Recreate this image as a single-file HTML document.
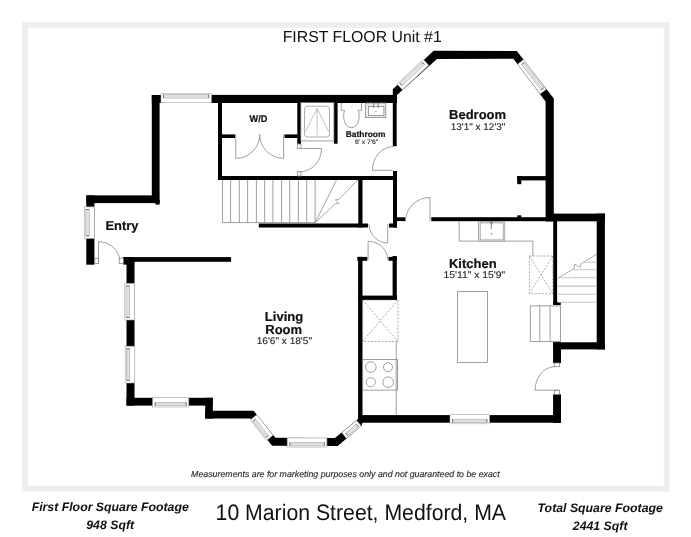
<!DOCTYPE html>
<html><head><meta charset="utf-8">
<style>
html,body{margin:0;padding:0;background:#fff;}
body{width:691px;height:537px;overflow:hidden;position:relative;}
svg{position:absolute;left:0;top:0;}
#wrap{position:absolute;left:0;top:0;width:691px;height:537px;will-change:transform}
</style></head>
<body>
<div id="wrap">
<svg text-rendering="geometricPrecision" width="691" height="537" viewBox="0 0 691 537" font-family="Liberation Sans, sans-serif">
<!-- frame -->
<rect x="24.9" y="24.9" width="641.8" height="463.8" fill="none" stroke="#eceef0" stroke-width="5.8"/>

<text x="362.2" y="41.8" font-size="15.85" text-anchor="middle" fill="#111">FIRST FLOOR Unit #1</text>

<g fill="#000" stroke="none">
  <!-- left hall wall -->
  <rect x="151.8" y="95" width="7.8" height="108"/>
  <rect x="155.4" y="200" width="4.2" height="4.6"/>
  <rect x="151.8" y="95" width="9.4" height="7.9"/>
  <!-- top wall -->
  <rect x="211" y="94.9" width="186" height="8.1"/>
  <!-- W/D left wall -->
  <rect x="218" y="102" width="4" height="78"/>
  <!-- W/D stubs -->
  <rect x="222" y="134.4" width="13.2" height="3.6"/>
  <rect x="284.5" y="134.4" width="13" height="3.6"/>
  <!-- W/D right wall -->
  <rect x="297.3" y="102" width="3.7" height="42"/>
  <!-- W/D bottom wall -->
  <rect x="218" y="176" width="179" height="4"/>
  <!-- shower right wall -->
  <rect x="334" y="102" width="3.6" height="41.7"/>
  <!-- bathroom right wall -->
  <rect x="392.8" y="89.2" width="3.9" height="57"/>
  <!-- hall vertical -->
  <rect x="393" y="171" width="4" height="56.5"/>
  <!-- stair right wall -->
  <rect x="358.3" y="180" width="4.2" height="47.5"/>
  <!-- wall under stairs -->
  <rect x="258.8" y="223.5" width="109.2" height="4"/>
  <rect x="389" y="223.5" width="8" height="4"/>
  <rect x="397" y="217.3" width="8.3" height="3.8"/>

  <!-- bedroom walls -->
  <polygon points="392.8,89.2 433.6,50.8 516.8,51 553.8,98.6 553.8,221.3 545.6,221.3 545.6,101.6 513.4,58.8 437,59 396.7,95.3"/>
  <!-- closet stub -->
  <rect x="517.2" y="176.1" width="28.8" height="4.3"/>
  <rect x="517.2" y="176.1" width="4.1" height="8.1"/>
  <!-- bedroom bottom / kitchen top -->
  <rect x="431.3" y="217.2" width="122" height="4"/>
  <rect x="517.3" y="215.3" width="4" height="2.5"/>

  <!-- stair enclosure -->
  <rect x="546" y="213.6" width="59" height="7.7"/>
  <rect x="596.7" y="213.6" width="8.2" height="135.8"/>
  <rect x="553.2" y="221" width="3.9" height="84"/>
  <rect x="553.2" y="302" width="7.6" height="3"/>
  <rect x="553.2" y="342.3" width="51.7" height="7.1"/>
  <rect x="553.1" y="342.3" width="7.9" height="20.7"/>
  <rect x="553.1" y="394.4" width="7.9" height="28.5"/>

  <!-- kitchen bottom wall -->
  <rect x="358.3" y="415.1" width="202.7" height="7.6"/>
  <!-- kitchen left wall -->
  <rect x="358.1" y="256.9" width="4.4" height="166"/>
  <!-- closet -->
  <rect x="358.1" y="295.6" width="38.9" height="4.4"/>
  <rect x="392.6" y="256" width="4.2" height="44"/>
  <rect x="357.3" y="256.9" width="10" height="3.9"/>
  <rect x="388.5" y="256.9" width="8.3" height="3.9"/>

  <!-- living room top wall -->
  <rect x="123.2" y="257.1" width="107.9" height="4.7"/>
  <rect x="123.2" y="257.1" width="11.1" height="7.5"/>
  <!-- living room left wall -->
  <rect x="126.5" y="257.1" width="8" height="148.5"/>
  <!-- bottom left -->
  <rect x="126.5" y="397.8" width="86.3" height="7.8"/>
  <rect x="205.2" y="397.8" width="7.6" height="20.8"/>
  <!-- bay -->
  <polygon points="205.2,410.7 253.5,410.7 275.4,437.7 334.9,438.1 358.6,418.6 362.4,418.6 362.4,422.7 361.4,426 337.7,446 272.1,445.8 250.2,418.6 205.2,418.6"/>

  <!-- entry -->
  <rect x="86.4" y="195.4" width="72.7" height="7.7"/>
  <rect x="86.3" y="195.4" width="8.1" height="69.3"/>
</g>

<!-- windows -->
<g transform="translate(186.2 98.0) rotate(0)"><rect x="-25.200000000000003" y="-4.599999999999994" width="50.400000000000006" height="9.199999999999989" fill="#fff" stroke="#a8a8a8" stroke-width="0.6"/><rect x="-22.6" y="-3.399999999999994" width="45.2" height="3.4" fill="#eeeeee" stroke="#9a9a9a" stroke-width="0.55"/><path d="M-22.6,-2.266666666666661 H22.6 M-22.6,-1.1333333333333275 H22.6" stroke="#bdbdbd" stroke-width="0.35"/><path d="M-22.6,-3.399999999999994 V5.773159728050814e-15 M22.6,-3.399999999999994 V5.773159728050814e-15" stroke="#555" stroke-width="0.7"/></g>
<g transform="translate(89.44999999999999 222.7) rotate(-90)"><rect x="-15.799999999999997" y="-4.850000000000001" width="31.599999999999994" height="9.700000000000003" fill="#fff" stroke="#a8a8a8" stroke-width="0.6"/><rect x="-13.199999999999998" y="-3.6500000000000012" width="26.399999999999995" height="3.4" fill="#eeeeee" stroke="#9a9a9a" stroke-width="0.55"/><path d="M-13.199999999999998,-2.516666666666668 H13.199999999999998 M-13.199999999999998,-1.3833333333333346 H13.199999999999998" stroke="#bdbdbd" stroke-width="0.35"/><path d="M-13.199999999999998,-3.6500000000000012 V-0.25000000000000133 M13.199999999999998,-3.6500000000000012 V-0.25000000000000133" stroke="#555" stroke-width="0.7"/></g>
<g transform="translate(129.7 301.65) rotate(-90)"><rect x="-18.349999999999994" y="-4.899999999999999" width="36.69999999999999" height="9.799999999999997" fill="#fff" stroke="#a8a8a8" stroke-width="0.6"/><rect x="-15.749999999999995" y="-3.6999999999999984" width="31.49999999999999" height="3.4" fill="#eeeeee" stroke="#9a9a9a" stroke-width="0.55"/><path d="M-15.749999999999995,-2.566666666666665 H15.749999999999995 M-15.749999999999995,-1.4333333333333318 H15.749999999999995" stroke="#bdbdbd" stroke-width="0.35"/><path d="M-15.749999999999995,-3.6999999999999984 V-0.2999999999999985 M15.749999999999995,-3.6999999999999984 V-0.2999999999999985" stroke="#555" stroke-width="0.7"/></g>
<g transform="translate(130.0 364.6) rotate(-90)"><rect x="-18.400000000000006" y="-4.800000000000004" width="36.80000000000001" height="9.600000000000009" fill="#fff" stroke="#a8a8a8" stroke-width="0.6"/><rect x="-15.800000000000006" y="-3.600000000000004" width="31.600000000000012" height="3.4" fill="#eeeeee" stroke="#9a9a9a" stroke-width="0.55"/><path d="M-15.800000000000006,-2.466666666666671 H15.800000000000006 M-15.800000000000006,-1.3333333333333375 H15.800000000000006" stroke="#bdbdbd" stroke-width="0.35"/><path d="M-15.800000000000006,-3.600000000000004 V-0.20000000000000417 M15.800000000000006,-3.600000000000004 V-0.20000000000000417" stroke="#555" stroke-width="0.7"/></g>
<g transform="translate(170.7 402.2) rotate(0) scale(1 -1)"><rect x="-18.10000000000001" y="-4.800000000000011" width="36.20000000000002" height="9.600000000000023" fill="#fff" stroke="#a8a8a8" stroke-width="0.6"/><rect x="-15.500000000000009" y="-3.600000000000011" width="31.000000000000018" height="3.4" fill="#eeeeee" stroke="#9a9a9a" stroke-width="0.55"/><path d="M-15.500000000000009,-2.466666666666678 H15.500000000000009 M-15.500000000000009,-1.3333333333333446 H15.500000000000009" stroke="#bdbdbd" stroke-width="0.35"/><path d="M-15.500000000000009,-3.600000000000011 V-0.20000000000001128 M15.500000000000009,-3.600000000000011 V-0.20000000000001128" stroke="#555" stroke-width="0.7"/></g>
<g transform="translate(307.04999999999995 442.55) rotate(0) scale(1 -1)"><rect x="-19.849999999999994" y="-4.550000000000011" width="39.69999999999999" height="9.100000000000023" fill="#fff" stroke="#a8a8a8" stroke-width="0.6"/><rect x="-17.249999999999993" y="-3.350000000000011" width="34.499999999999986" height="3.4" fill="#eeeeee" stroke="#9a9a9a" stroke-width="0.55"/><path d="M-17.249999999999993,-2.216666666666678 H17.249999999999993 M-17.249999999999993,-1.0833333333333446 H17.249999999999993" stroke="#bdbdbd" stroke-width="0.35"/><path d="M-17.249999999999993,-3.350000000000011 V0.04999999999998872 M17.249999999999993,-3.350000000000011 V0.04999999999998872" stroke="#555" stroke-width="0.7"/></g>
<g transform="translate(469.75 419.25) rotate(0) scale(1 -1)"><rect x="-19.75" y="-4.550000000000011" width="39.5" height="9.100000000000023" fill="#fff" stroke="#a8a8a8" stroke-width="0.6"/><rect x="-17.15" y="-3.350000000000011" width="34.3" height="3.4" fill="#eeeeee" stroke="#9a9a9a" stroke-width="0.55"/><path d="M-17.15,-2.216666666666678 H17.15 M-17.15,-1.0833333333333446 H17.15" stroke="#bdbdbd" stroke-width="0.35"/><path d="M-17.15,-3.350000000000011 V0.04999999999998872 M17.15,-3.350000000000011 V0.04999999999998872" stroke="#555" stroke-width="0.7"/></g>
<g transform="translate(412.8 74.6) rotate(-43.2)"><rect x="-18.0" y="-4.0" width="36" height="8" fill="#fff" stroke="#a8a8a8" stroke-width="0.6"/><rect x="-15.4" y="-2.8" width="30.8" height="3.4" fill="#eeeeee" stroke="#9a9a9a" stroke-width="0.55"/><path d="M-15.4,-1.6666666666666665 H15.4 M-15.4,-0.5333333333333332 H15.4" stroke="#bdbdbd" stroke-width="0.35"/><path d="M-15.4,-2.8 V0.6000000000000001 M15.4,-2.8 V0.6000000000000001" stroke="#555" stroke-width="0.7"/></g>
<g transform="translate(531.95 76.75) rotate(52.9)"><rect x="-18.65" y="-3.8" width="37.3" height="7.6" fill="#fff" stroke="#a8a8a8" stroke-width="0.6"/><rect x="-16.049999999999997" y="-2.5999999999999996" width="32.099999999999994" height="3.4" fill="#eeeeee" stroke="#9a9a9a" stroke-width="0.55"/><path d="M-16.049999999999997,-1.4666666666666663 H16.049999999999997 M-16.049999999999997,-0.33333333333333304 H16.049999999999997" stroke="#bdbdbd" stroke-width="0.35"/><path d="M-16.049999999999997,-2.5999999999999996 V0.8000000000000003 M16.049999999999997,-2.5999999999999996 V0.8000000000000003" stroke="#555" stroke-width="0.7"/></g>
<g transform="translate(261.65 427.6) rotate(51.7) scale(1 -1)"><rect x="-13.05" y="-4.2" width="26.1" height="8.4" fill="#fff" stroke="#a8a8a8" stroke-width="0.6"/><rect x="-10.450000000000001" y="-3.0" width="20.900000000000002" height="3.4" fill="#eeeeee" stroke="#9a9a9a" stroke-width="0.55"/><path d="M-10.450000000000001,-1.8666666666666667 H10.450000000000001 M-10.450000000000001,-0.7333333333333334 H10.450000000000001" stroke="#bdbdbd" stroke-width="0.35"/><path d="M-10.450000000000001,-3.0 V0.3999999999999999 M10.450000000000001,-3.0 V0.3999999999999999" stroke="#555" stroke-width="0.7"/></g>
<g transform="translate(351.55 429.35) rotate(-39) scale(1 -1)"><rect x="-9.6" y="-3.7" width="19.2" height="7.4" fill="#fff" stroke="#a8a8a8" stroke-width="0.6"/><rect x="-7.0" y="-2.5" width="14.0" height="3.4" fill="#eeeeee" stroke="#9a9a9a" stroke-width="0.55"/><path d="M-7.0,-1.3666666666666667 H7.0 M-7.0,-0.2333333333333334 H7.0" stroke="#bdbdbd" stroke-width="0.35"/><path d="M-7.0,-2.5 V0.8999999999999999 M7.0,-2.5 V0.8999999999999999" stroke="#555" stroke-width="0.7"/></g>
<!-- thin lines -->
<g stroke="#888" stroke-width="0.8" fill="none">
  <!-- W/D doors -->
  <path d="M235.8,134.4 V158.4 A24,24 0 0 0 259.8,134.4"/>
  <path d="M283.6,134.4 V158.4 A24,24 0 0 1 259.6,134.4"/>
  <!-- small boxes -->
  <rect x="297.4" y="144" width="3.6" height="4.5"/>
  <rect x="297.4" y="171.8" width="3.6" height="4.2"/>
  <!-- bath door -->
  <path d="M301,148.5 H321.5 A22,23 0 0 1 299.3,171.8"/>
  <!-- stairs -->
  <path d="M222.5,180 V222.6 M230.6,180 V222.6 M239.3,180 V222.6 M247.6,180 V222.6 M256.4,180 V222.6 M264.6,180 V222.6 M272.9,180 V222.6 M281.6,180 V222.6 M289.7,180 V222.6 M298.4,180 V222.6 M306.7,180 V222.6 M315.1,180 V222.6"/>
  <path d="M222.5,222.6 H315.1"/>
  <path d="M315.1,222.8 L336.5,180"/>
  <path d="M357.9,180 L338.6,199.6 L335.2,199.7 L338.8,203.4 L335.4,203.5 L315.1,222.8" stroke-width="0.7"/>
  <!-- shower -->
  <rect x="300.8" y="102.5" width="33.1" height="38.4"/>
  <rect x="304.5" y="106.2" width="25" height="30.8" rx="3" stroke="#999"/>
  <path d="M305.6,131.4 L317.1,108.5 L328.6,131.4 M317.1,108.5 V135.3" stroke="#9c9c9c" stroke-width="0.6"/>
  <!-- toilet -->
  <path d="M341.3,103 V110.4 H344.6 C342.3,116 344,127.7 351.4,127.7 C358.8,127.7 360.5,116 358.2,110.4 H361.5 V103"/>
  <path d="M350.5,105.7 H353" stroke="#bbb" stroke-width="0.5"/>
  <!-- sink -->
  <rect x="365.5" y="103" width="20.3" height="14.6" fill="#ececec"/>
  <rect x="368.4" y="106.4" width="15.5" height="9.2" fill="#fff"/>
  <path d="M373.7,103 V108.2 M378.2,103 V108.2" stroke="#777" stroke-width="0.9"/>
  <circle cx="375.9" cy="111.5" r="0.6" fill="#666" stroke="none"/>
  <!-- bathroom door to hall -->
  <path d="M372.4,170.3 H393 M372.4,170.3 A20.6,23.6 0 0 1 393,146.7"/>
  <!-- kitchen door top -->
  <path d="M430,221.2 V197.5 A24.5,23.7 0 0 0 405.5,221.2"/>
  <!-- closet doors -->
  <path d="M387.7,224 V243 A19,19 0 0 1 369,224"/>
  <path d="M368.1,259.7 V241.3 A19.6,18.4 0 0 1 387.7,259.7"/>
  <!-- kitchen counter -->
  <path d="M459.2,221.3 V241.1 H532.9 V256"/>
  <rect x="478.6" y="221.5" width="26.2" height="19.6" fill="#efefef" stroke="#999"/>
  <rect x="480.2" y="222.9" width="23" height="17" fill="#fff" stroke="#999"/>
  <path d="M491.3,221.7 V229 M489.8,222.7 H493.1" stroke="#666" stroke-width="0.8"/>
  <circle cx="491.3" cy="233.7" r="0.6" fill="#555" stroke="none"/>
  <!-- island -->
  <rect x="457.4" y="291.6" width="30.1" height="70.9"/>
  <!-- kitchen left counter -->
  <path d="M396.2,341.5 V414.7"/>
  <rect x="362.7" y="359.4" width="34.7" height="30.7"/>
  <circle cx="370.8" cy="367.1" r="5.3"/>
  <circle cx="388" cy="367.1" r="4.5"/>
  <circle cx="370.8" cy="382.2" r="4.6"/>
  <circle cx="388.2" cy="382.2" r="5.3"/>
  <!-- exterior steps -->
  <rect x="530.3" y="305.9" width="30.1" height="35.6"/>
  <path d="M539.8,305.9 V341.5 M550.1,305.9 V341.5"/>
  <!-- enclosure stairs -->
  <path d="M557.9,278 L574.1,268.7 L574.8,264.1 L580.1,267.5 L581.1,263.8 L596.6,254.2" stroke="#888" stroke-width="0.7"/>
  <path d="M583.6,262.2 H596.6 M572,269.8 H596.6 M557.9,277.8 H596.6 M557.9,286.1 H596.6 M557.9,294.3 H596.6 M557.9,302.2 H596.6" stroke="#c4c4c4" stroke-width="1.1"/>
  <!-- kitchen right door -->
  <rect x="554.3" y="363" width="5.1" height="3.7"/>
  <rect x="554.3" y="390.2" width="5.1" height="4.2"/>
  <path d="M535.1,390.2 H558.5 M535.1,390.2 A19.7,23.5 0 0 1 554.8,366.7"/>
  <!-- entry door -->
  <rect x="94.8" y="258.2" width="3.8" height="5.2"/>
  <rect x="119.2" y="258.2" width="4.3" height="5.2"/>
  <path d="M98.5,263.4 V241.5 A21.9,21.9 0 0 1 119.6,258.2"/>
</g>
<!-- dashed boxes -->
<g stroke="#888" stroke-width="0.7" fill="none" stroke-dasharray="2,1.5">
  <rect x="362.7" y="300" width="35.2" height="41.5"/>
  <path d="M362.7,300 L397.9,341.5 M397.9,300 L362.7,341.5"/>
  <rect x="529.4" y="256" width="23.4" height="37.7"/>
  <path d="M529.4,256 L552.8,293.7 M552.8,256 L529.4,293.7"/>
</g>

<!-- labels -->
<g fill="#111" stroke="#111" stroke-width="0.2" font-weight="bold" text-anchor="middle">
  <text x="258.4" y="121.9" font-size="9.7" textLength="17.8" lengthAdjust="spacingAndGlyphs">W/D</text>
  <text x="365.6" y="137.4" font-size="8.4">Bathroom</text>
  <text x="477.6" y="118.9" font-size="13">Bedroom</text>
  <text x="472.8" y="267.5" font-size="13">Kitchen</text>
  <text x="121.9" y="230.1" font-size="12.9">Entry</text>
  <text x="284" y="320.8" font-size="13">Living</text>
  <text x="283.7" y="333.6" font-size="13">Room</text>
</g>
<g fill="#262626" stroke="#262626" stroke-width="0.12">
  <text x="354.9" y="144.2" font-size="6.5" textLength="23.2" lengthAdjust="spacingAndGlyphs">6' x 7'6"</text>
  <text x="450.7" y="129.8" font-size="9.7" textLength="54.7" lengthAdjust="spacingAndGlyphs">13'1" x 12'3"</text>
  <text x="443.4" y="278" font-size="9.7" textLength="61.8" lengthAdjust="spacingAndGlyphs">15'11" x 15'9"</text>
  <text x="256.7" y="344" font-size="9.7" textLength="55.3" lengthAdjust="spacingAndGlyphs">16'6" x 18'5"</text>
  <text x="345.4" y="477" font-size="8.8" font-style="italic" text-anchor="middle">Measurements are for marketing purposes only and not guaranteed to be exact</text>
</g>
<g fill="#111" font-weight="bold" font-style="italic" text-anchor="middle">
  <text x="110.2" y="510.9" font-size="12.3">First Floor Square Footage</text>
  <text x="110.2" y="529.2" font-size="12.3">948 Sqft</text>
  <text x="600.2" y="512.4" font-size="12.3">Total Square Footage</text>
  <text x="600.2" y="529.7" font-size="12.3">2441 Sqft</text>
</g>
<text x="215.6" y="519.9" font-size="22.4" textLength="290.4" lengthAdjust="spacingAndGlyphs" fill="#111">10 Marion Street, Medford, MA</text>
</svg>
</div>
</body></html>
